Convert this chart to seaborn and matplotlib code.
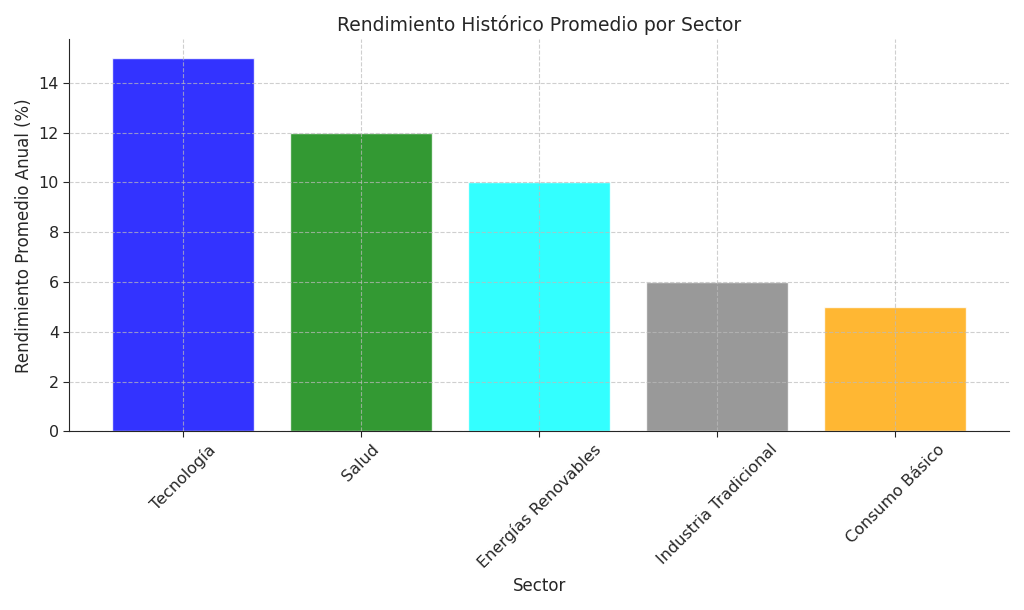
import matplotlib
matplotlib.use("Agg")
import matplotlib.pyplot as plt
import seaborn as sns
import pandas as pd

sectors = ["Tecnología", "Salud", "Energías Renovables", "Industria Tradicional", "Consumo Básico"]
returns = [15, 12, 10, 6, 5]
colors = ["blue", "green", "cyan", "gray", "orange"]

df = pd.DataFrame({"Sector": sectors, "Rendimiento": returns})
sns.set_style("white")
plt.rcParams['font.family'] = ['DejaVu Sans']
fig, ax = plt.subplots(figsize=(10.24, 6.1), dpi=100)
sns.barplot(data=df, x="Sector", y="Rendimiento", hue="Sector", palette=colors,
            alpha=0.8, width=0.8, saturation=1, legend=False, ax=ax)
ax.set_title("Rendimiento Histórico Promedio por Sector", fontsize=13.5)
ax.set_xlabel("Sector", fontsize=12)
ax.set_ylabel("Rendimiento Promedio Anual (%)", fontsize=12)
ax.tick_params(axis='both', labelsize=11.5, length=4, left=True, bottom=True)
plt.setp(ax.get_xticklabels(), rotation=45)
ax.grid(True, linestyle='--', alpha=0.7, color='#bbbbbb')
ax.set_axisbelow(False)
ax.set_ylim(0, 15.75)
ax.set_xlim(-0.64, 4.64)
for s in ["top", "right"]:
    ax.spines[s].set_visible(False)
fig.tight_layout()
fig.savefig("out.png", dpi=100)
